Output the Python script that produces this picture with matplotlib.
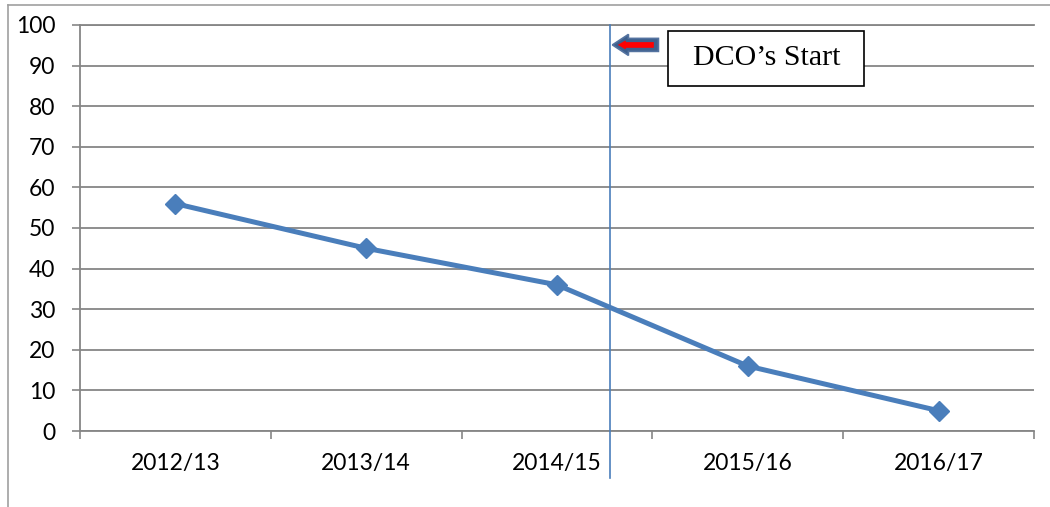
import matplotlib
matplotlib.use("Agg")
import matplotlib.pyplot as plt
from matplotlib.patches import Rectangle, FancyArrow
from matplotlib.lines import Line2D

# values
years = ["2012/13", "2013/14", "2014/15", "2015/16", "2016/17"]
values = [56, 45, 36, 16, 5]
y_ticks = [0, 10, 20, 30, 40, 50, 60, 70, 80, 90, 100]
dco_pos = 2.28          # where the DCO vertical marker sits (category units)
dco_label = "DCO\u2019s Start"

LINE_BLUE = "#4A7EBB"
GRID_GREY = "#868686"

fig = plt.figure(figsize=(10.5, 5.07), dpi=100)
W, H = 1050, 507
ax = fig.add_axes([80 / W, (H - 431) / H, (1034 - 80) / W, (431 - 25) / H])

x = list(range(len(years)))
ax.plot(x, values, color=LINE_BLUE, linewidth=3.6, marker="D", markersize=10,
        markerfacecolor=LINE_BLUE, markeredgecolor=LINE_BLUE, zorder=5)

ax.set_xlim(-0.5, len(years) - 0.5)
ax.set_ylim(0, 100)

# y axis: ticks pointing out, grey grid
ax.set_yticks(y_ticks)
ax.set_yticklabels([str(v) for v in y_ticks], fontsize=16.5, family="Lato")
ax.tick_params(axis="y", direction="out", length=5.8, width=1.2, color=GRID_GREY, pad=12)
ax.yaxis.grid(True, color=GRID_GREY, linewidth=1.3)
ax.set_axisbelow(True)

# x axis: labels in the middle, tick marks on category edges
ax.set_xticks(x)
ax.set_xticklabels(years, fontsize=16.5, family="Lato")
ax.tick_params(axis="x", which="major", length=0, pad=16)
ax.set_xticks([i - 0.5 for i in range(len(years) + 1)], minor=True)
ax.tick_params(axis="x", which="minor", direction="out", length=5.8, width=1.2, color=GRID_GREY)

ax.spines["right"].set_visible(False)
for side in ["left", "bottom", "top"]:
    ax.spines[side].set_color(GRID_GREY)
    ax.spines[side].set_linewidth(1.3)

# DCO start marker line (runs down past the axis)
ax.axvline(dco_pos, ymin=-0.116, ymax=1, color=LINE_BLUE, linewidth=1.2, clip_on=False, zorder=4)

# block arrow pointing at the line
px = len(years) / (1034 - 80)   # category units per pixel
py = 100 / (431 - 25)           # data units per pixel
arrow_y = 95.1
outer = FancyArrow(dco_pos + 48 * px, arrow_y, -46 * px, 0, width=13 * py,
                   head_width=21 * py, head_length=16 * px, length_includes_head=True,
                   facecolor="#3D5F8C", edgecolor="#5473A0", linewidth=1.2, zorder=6)
ax.add_patch(outer)
inner = FancyArrow(dco_pos + 43 * px, arrow_y, -35 * px, 0, width=5 * py,
                   head_width=8 * py, head_length=7 * px, length_includes_head=True,
                   facecolor="red", edgecolor="red", linewidth=0.5, zorder=7)
ax.add_patch(inner)

# label box
box_x0 = dco_pos + (669 - 611) * px
box_w = (865 - 669) * px
box_y0 = 85.0
box_h = 13.5
ax.add_patch(Rectangle((box_x0, box_y0), box_w, box_h, facecolor="white",
                       edgecolor="black", linewidth=1.2, zorder=6, clip_on=False))
ax.text(box_x0 + box_w / 2, box_y0 + box_h / 2, dco_label, fontsize=21.5,
        family="Liberation Serif", ha="center", va="center", zorder=7)

# chart-area border (left and top edges visible in the crop)
fig.add_artist(Line2D([8 / W, 8 / W], [0, (H - 5) / H], color="#A0A0A0", linewidth=1.2))
fig.add_artist(Line2D([8 / W, 1], [(H - 5) / H, (H - 5) / H], color="#A0A0A0", linewidth=1.2))

fig.savefig("out.png", dpi=100)
